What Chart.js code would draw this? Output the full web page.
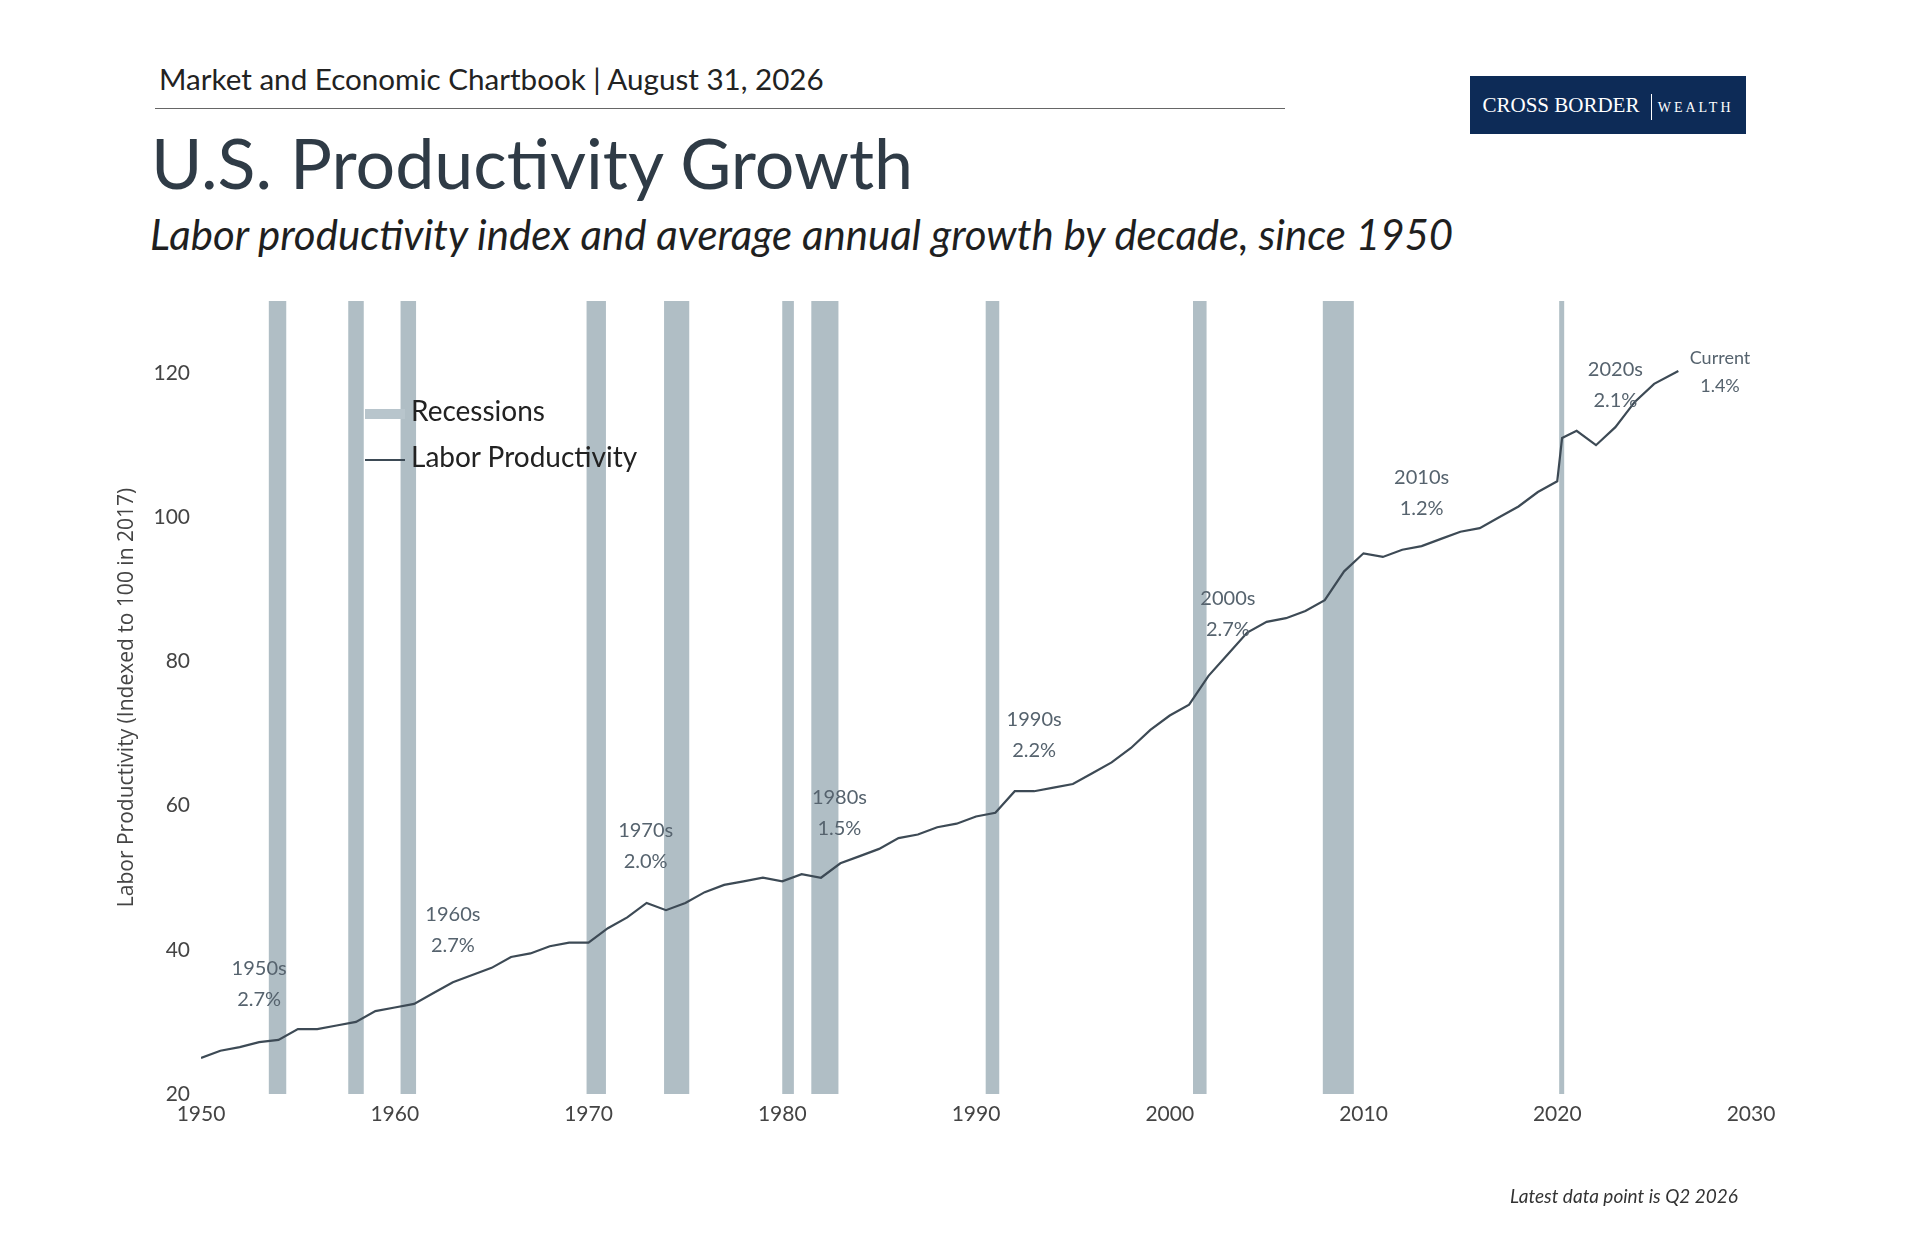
<!DOCTYPE html>
<html><head><meta charset="utf-8">
<script src="https://cdn.jsdelivr.net/npm/chart.js@4"></script>
<style>
body{margin:0;width:1920px;height:1240px;background:#fff;position:relative;overflow:hidden;font-family:Lato,"Open Sans",sans-serif;color:#2e3a44}
#c{position:absolute;left:0;top:0}
.abs{position:absolute;white-space:nowrap}
</style></head><body>
<div class="abs" style="left:159px;top:61px;font-size:29.6px;color:#222">Market and Economic Chartbook | August 31, 2026</div>
<div class="abs" style="left:155px;top:108px;width:1130px;height:1px;background:#666"></div>
<div class="abs" style="left:1470px;top:76px;width:276px;height:58px;background:#0d2b57;color:#fff;font-family:'Liberation Serif',serif;font-size:21px;line-height:58px;text-align:center">CROSS BORDER <span style="display:inline-block;width:1px;height:26px;background:#fff;vertical-align:middle;margin:0 6px"></span><span style="font-size:14px;letter-spacing:3px">WEALTH</span></div>
<div class="abs" style="left:151px;top:120px;font-size:70px;color:#2f3b46">U.S. Productivity Growth</div>
<div class="abs" style="left:150px;top:209px;font-size:42px;font-style:italic;color:#1f1f1f">Labor productivity index and average annual growth by decade, since 1950</div>
<canvas id="c" width="1920" height="1240"></canvas>
<div class="abs" style="left:365px;top:392px;font-size:28px;color:#222">
 <div style="height:46px;line-height:36px"><span style="display:inline-block;width:40px;height:10px;background:#b8c5cc;vertical-align:middle;margin-right:6px"></span>Recessions</div>
 <div style="line-height:36px"><span style="display:inline-block;width:40px;height:2px;background:#3d4a55;vertical-align:middle;margin-right:6px"></span>Labor Productivity</div>
</div>
<div class="abs" style="right:182px;top:1184px;font-size:19px;font-style:italic;color:#333">Latest data point is Q2 2026</div>
<script>
const years=[1950,1951,1952,1953,1954,1955,1956,1957,1958,1959,1960,1961,1962,1963,1964,1965,1966,1967,1968,1969,1970,1971,1972,1973,1974,1975,1976,1977,1978,1979,1980,1981,1982,1983,1984,1985,1986,1987,1988,1989,1990,1991,1992,1993,1994,1995,1996,1997,1998,1999,2000,2001,2002,2003,2004,2005,2006,2007,2008,2009,2010,2011,2012,2013,2014,2015,2016,2017,2018,2019,2020,2020.25,2021,2022,2023,2024,2025,2026.25];
const productivity=[25,26,26.5,27.2,27.5,29,29,29.5,30,31.5,32,32.5,34,35.5,36.5,37.5,39,39.5,40.5,41,41,43,44.5,46.5,45.5,46.5,48,49,49.5,50,49.5,50.5,50,52,53,54,55.5,56,57,57.5,58.5,59,62,62,62.5,63,64.5,66,68,70.5,72.5,74,78,81,84,85.5,86,87,88.5,92.5,95,94.5,95.5,96,97,98,98.5,100,101.5,103.5,105,111,112,110,112.5,116,118.5,120.3];
const recessionStart=[1953.5,1957.6,1960.3,1969.9,1973.9,1980.0,1981.5,1990.5,2001.2,2007.9,2020.1];
const recessionEnd=[1954.4,1958.4,1961.1,1970.9,1975.2,1980.6,1982.9,1991.2,2001.9,2009.5,2020.35];
const decadeLabels=["1950s","1960s","1970s","1980s","1990s","2000s","2010s","2020s","Current"];
const decadeGrowth=["2.7%","2.7%","2.0%","1.5%","2.2%","2.7%","1.2%","2.1%","1.4%"];
const labelX=[1953,1963,1972.95,1982.95,1993,2003,2013,2023,2028.4];
const labelY=[37.4,44.9,56.5,61.1,72,88.7,105.5,120.5,122];
const yTicks=[20,40,60,80,100,120];
const xTicks=[1950,1960,1970,1980,1990,2000,2010,2020,2030];
const yTitle='Labor Productivity (Indexed to 100 in 2017)';

const recPlugin={id:'rec',beforeDatasetsDraw(ch){const {ctx,chartArea:a,scales:{x}}=ch;ctx.save();ctx.fillStyle='#b0bec5';
 recessionStart.forEach((s,i)=>{const x0=x.getPixelForValue(s),x1=x.getPixelForValue(recessionEnd[i]);ctx.fillRect(x0,a.top,Math.max(x1-x0,5),a.bottom-a.top);});ctx.restore();},
 afterDatasetsDraw(ch){const {ctx,chartArea:a,scales:{x,y}}=ch;ctx.save();ctx.fillStyle='#56636e';ctx.textAlign='center';ctx.textBaseline='middle';
 decadeLabels.forEach((l,i)=>{const px=x.getPixelForValue(labelX[i]),py=y.getPixelForValue(labelY[i]);const fs=l==='Current'?18:20;ctx.font=fs+'px Lato';ctx.fillText(l,px,py);ctx.fillText(decadeGrowth[i],px,py+(l==='Current'?28:31));});
 ctx.translate(127,y.getPixelForValue(75));ctx.rotate(-Math.PI/2);ctx.font='21px "Open Sans"';ctx.fillStyle='#444';ctx.fillText(yTitle,0,0);ctx.restore();}};

new Chart(document.getElementById('c'),{type:'line',
 data:{datasets:[{data:years.map((v,i)=>({x:v,y:productivity[i]})),borderColor:'#3d4a55',borderWidth:2.2,pointRadius:0,tension:0}]},
 options:{responsive:false,animation:false,plugins:{legend:{display:false},tooltip:{enabled:false}},
 layout:{padding:{left:0,top:301,right:169,bottom:0}},
 scales:{x:{type:'linear',min:1950,max:2030,afterBuildTicks(s){s.ticks=xTicks.map(v=>({value:v}));},grid:{display:false},border:{display:false},
   ticks:{font:{size:21,family:'Lato'},color:'#444',padding:0,maxRotation:0,callback:v=>String(v)},afterFit(s){s.height=146;}},
  y:{min:20,max:130,afterBuildTicks(s){s.ticks=yTicks.map(v=>({value:v}));},grid:{display:false},border:{display:false},
   ticks:{font:{size:21,family:'Lato'},color:'#444',padding:3},afterFit(s){s.width=201;}}}},
 plugins:[recPlugin]});
</script></body></html>
